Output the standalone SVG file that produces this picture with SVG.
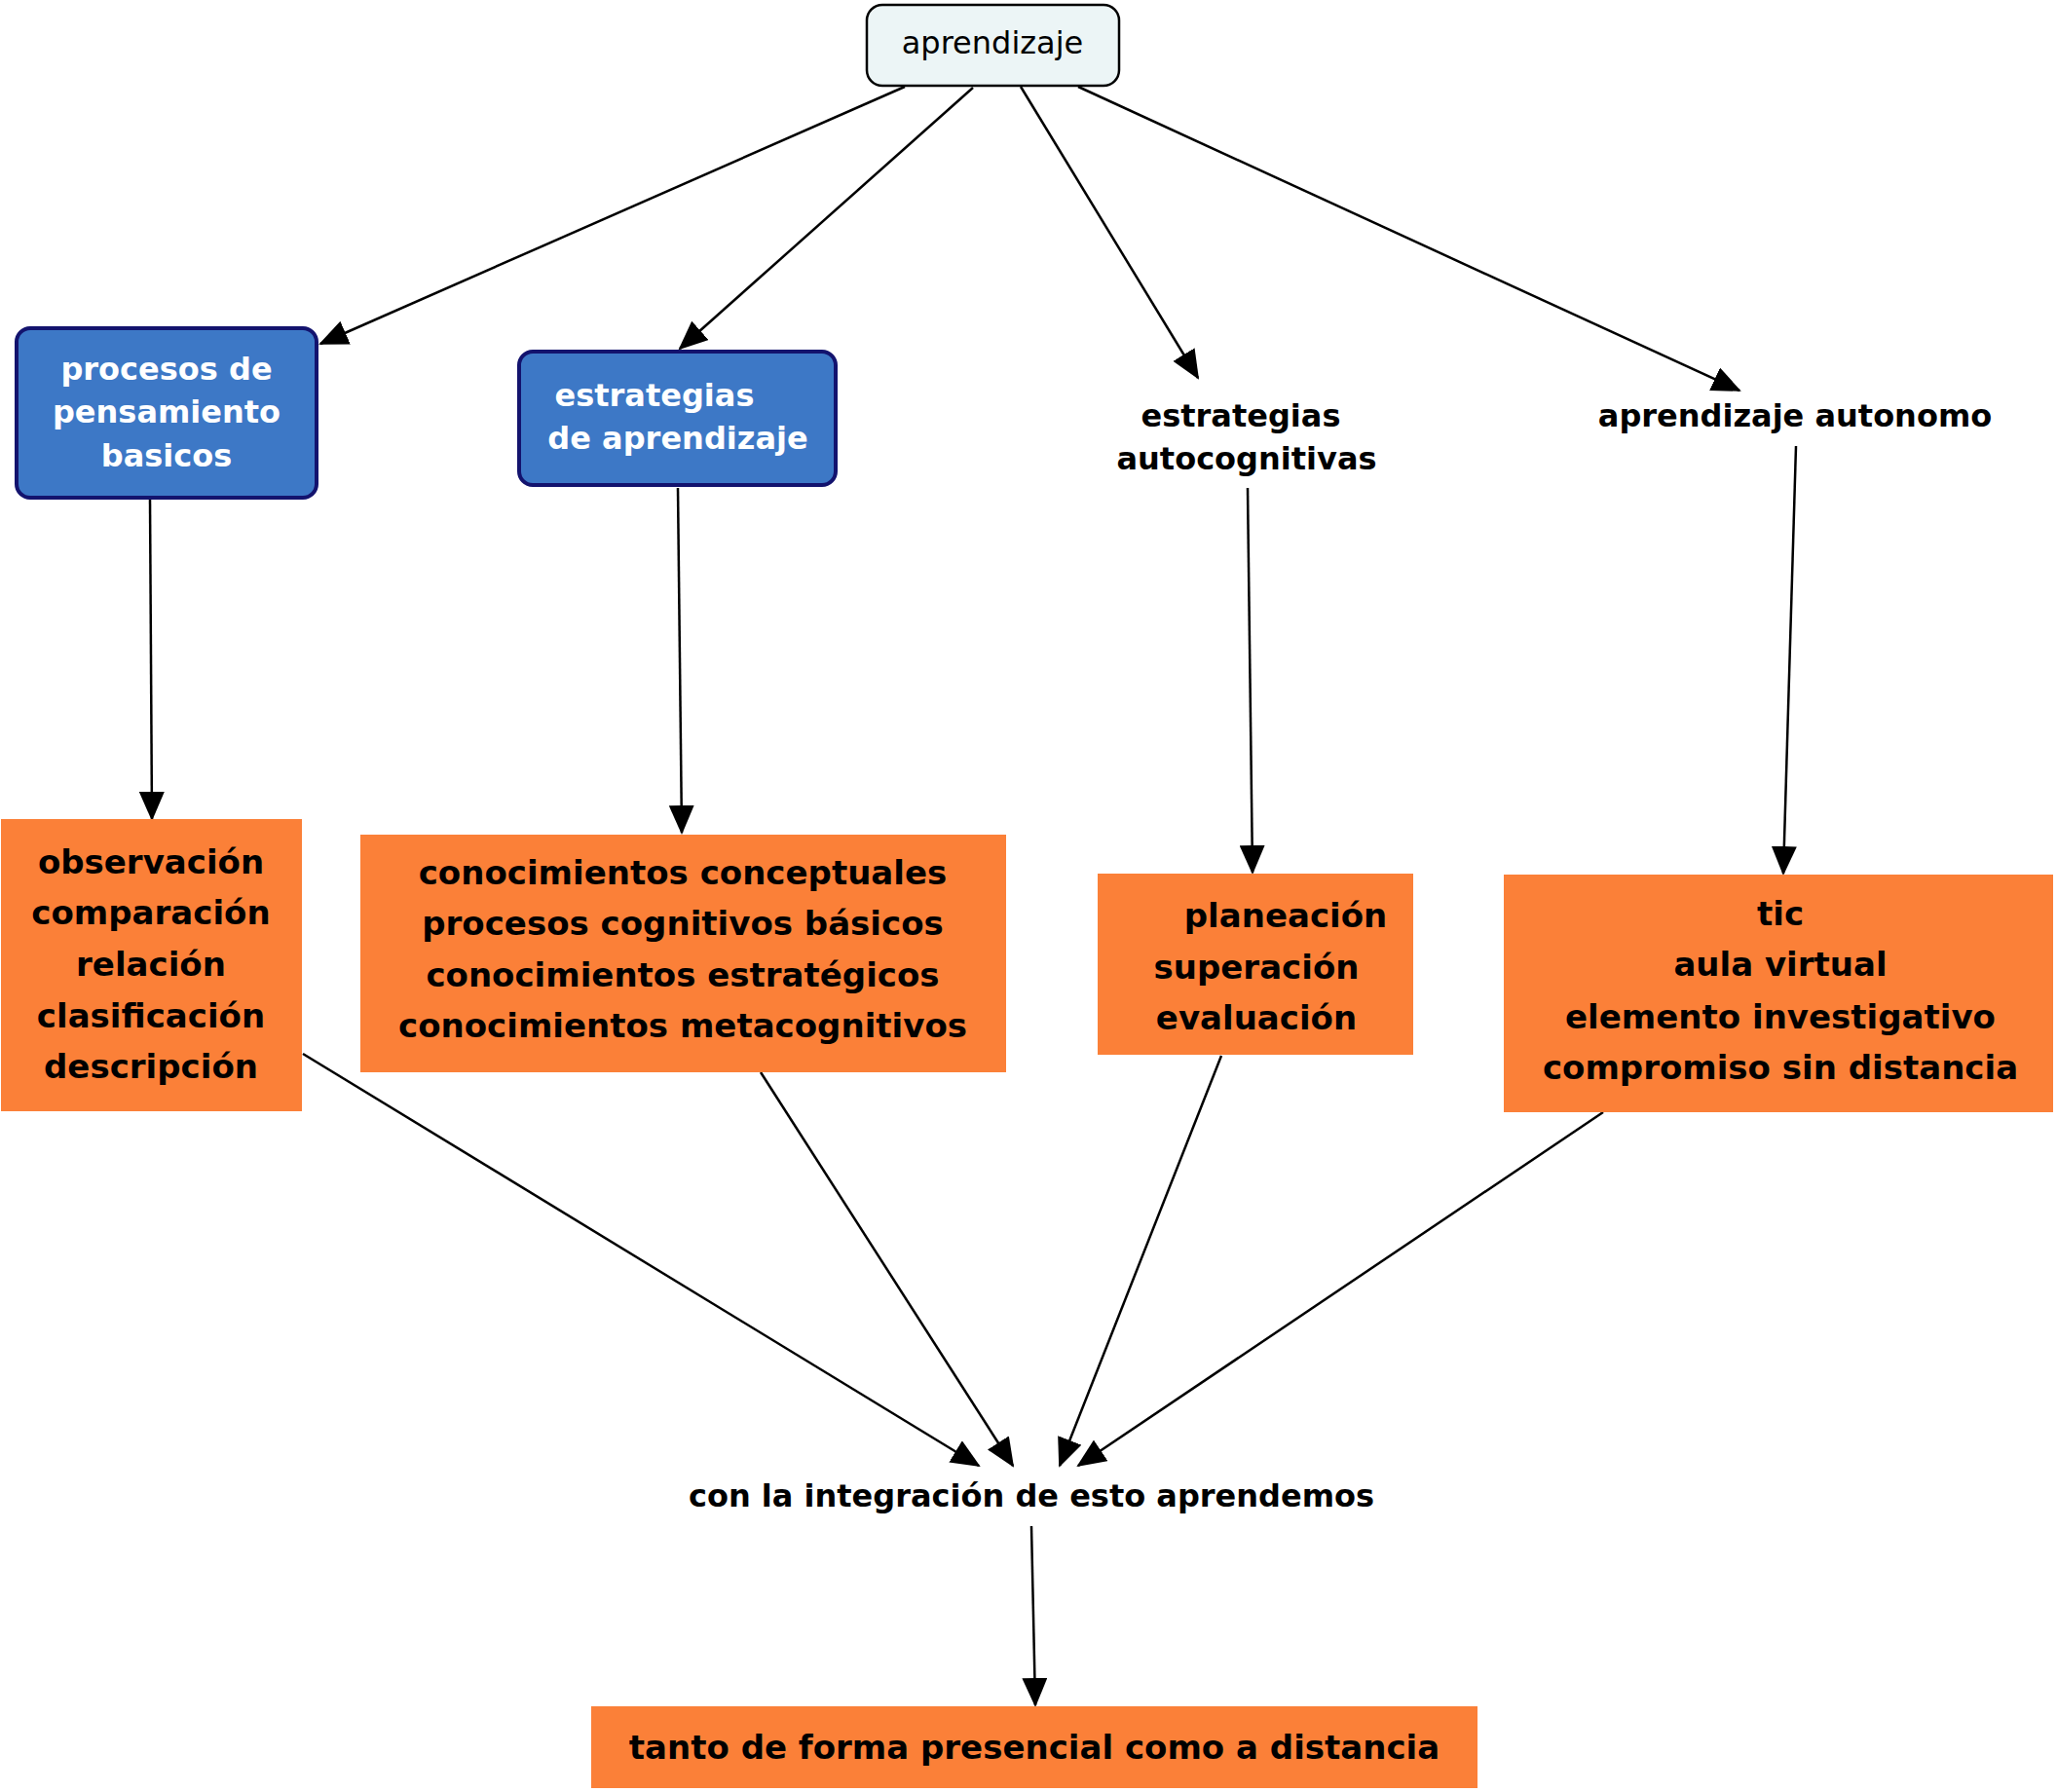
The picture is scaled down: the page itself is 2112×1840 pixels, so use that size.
<svg xmlns="http://www.w3.org/2000/svg" width="2112" height="1840" viewBox="0 0 2112 1840">
<style>
text{font-family:"DejaVu Sans",Verdana,sans-serif;text-anchor:middle;font-weight:bold;font-size:34px;fill:#000}
.w{fill:#fff;font-size:32px}
.l{font-size:32px}
.o{fill:#fb8038}
.b{fill:#3d78c6;stroke:#13136e;stroke-width:4}
.c line{stroke:#000;stroke-width:2.5;marker-end:url(#a)}
</style>
<defs><marker id="a" markerUnits="userSpaceOnUse" markerWidth="30" markerHeight="26" refX="28" refY="13" orient="auto"><path d="M0,0L30,13L0,26z" fill="#000"/></marker></defs>
<rect width="2112" height="1840" fill="#fff"/>
<g class="c">
<line x1="929" y1="89" x2="329" y2="353"/>
<line x1="999" y1="90" x2="698" y2="358"/>
<line x1="1048" y1="89" x2="1230" y2="388"/>
<line x1="1107" y1="89" x2="1786" y2="401"/>
<line x1="154" y1="512" x2="156" y2="841"/>
<line x1="696" y1="501" x2="700" y2="855"/>
<line x1="1281" y1="501" x2="1286" y2="896"/>
<line x1="1844" y1="458" x2="1831" y2="897"/>
<line x1="311" y1="1082" x2="1005" y2="1505"/>
<line x1="781" y1="1101" x2="1040" y2="1505"/>
<line x1="1254" y1="1084" x2="1088" y2="1505"/>
<line x1="1646" y1="1142" x2="1107" y2="1505"/>
<line x1="1059" y1="1567" x2="1063" y2="1751"/>
</g>
<g id="n0"><rect x="890" y="5" width="259" height="83" rx="16" fill="#ecf5f6" stroke="#000" stroke-width="2.5"/><text x="1019" y="55" style="font-weight:normal;font-size:32px">aprendizaje</text></g>
<g id="n1"><rect class="b" x="17" y="337" width="308" height="174" rx="14"/><text class="w" x="171" y="390">procesos  de</text><text class="w" x="171" y="434">pensamiento</text><text class="w" x="171" y="479">basicos</text></g>
<g id="n2"><rect class="b" x="533" y="361" width="325" height="137" rx="14"/><text class="w" x="672" y="417">estrategias</text><text class="w" x="696" y="461">de aprendizaje</text></g>
<g id="n3"><text class="l" x="1274" y="438">estrategias</text><text class="l" x="1280" y="482">autocognitivas</text></g>
<g id="n4"><text class="l" x="1843" y="438">aprendizaje autonomo</text></g>
<g id="n5"><rect class="o" x="1" y="841" width="309" height="300"/><text x="155" y="897">observación</text><text x="155" y="949">comparación</text><text x="155" y="1002">relación</text><text x="155" y="1055">clasificación</text><text x="155" y="1107">descripción</text></g>
<g id="n6"><rect class="o" x="370" y="857" width="663" height="244"/><text x="701" y="908">conocimientos conceptuales</text><text x="701" y="960">procesos cognitivos básicos</text><text x="701" y="1013">conocimientos estratégicos</text><text x="701" y="1065">conocimientos metacognitivos</text></g>
<g id="n7"><rect class="o" x="1127" y="897" width="324" height="186"/><text x="1320" y="952">planeación</text><text x="1290" y="1005">superación</text><text x="1290" y="1057">evaluación</text></g>
<g id="n8"><rect class="o" x="1544" y="898" width="564" height="244"/><text x="1828" y="950">tic</text><text x="1828" y="1002">aula virtual</text><text x="1828" y="1056">elemento investigativo</text><text x="1828" y="1108">compromiso sin distancia</text></g>
<g id="n9"><text class="l" x="1059" y="1547">con la integración de esto aprendemos</text></g>
<g id="n10"><rect class="o" x="607" y="1752" width="910" height="84"/><text x="1062" y="1806">tanto de forma presencial como a distancia</text></g>
</svg>
